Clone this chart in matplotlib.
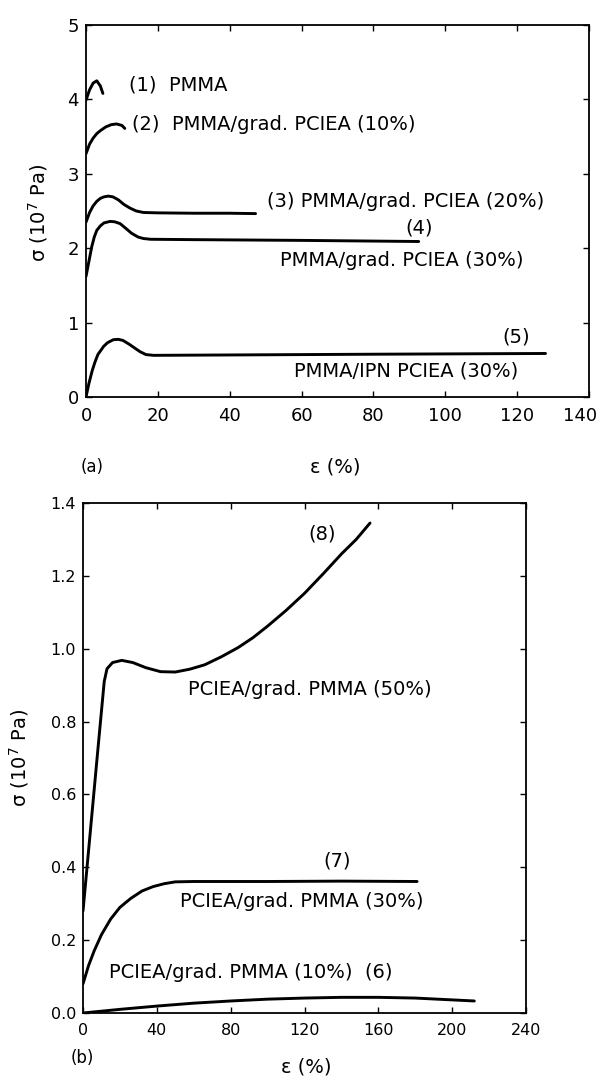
import matplotlib
matplotlib.use("Agg")
import matplotlib.pyplot as plt
import matplotlib.transforms as mtransforms

# ---- panel (a): PMMA-rich samples ----
C1_X = [0, 1, 2, 3, 4, 4.7]
C1_Y = [3.99, 4.13, 4.22, 4.25, 4.18, 4.08]

C2_X = [0, 1, 2, 3, 4, 5.5, 7, 8.5, 10, 10.8]
C2_Y = [3.27, 3.40, 3.48, 3.54, 3.58, 3.63, 3.66, 3.67, 3.65, 3.61]

C3_X = [0, 1, 2, 3, 4, 5, 6.2, 7.5, 9, 10.5, 12.2, 14, 16, 20, 30, 40, 47.2]
C3_Y = [2.35, 2.48, 2.57, 2.63, 2.67, 2.69, 2.70, 2.69, 2.65, 2.59, 2.54,
        2.50, 2.48, 2.475, 2.47, 2.47, 2.465]

C4_X = [0, 0.8, 1.6, 2.3, 3.0, 4, 5, 6.7, 8, 9.5, 11, 12.7, 14.5, 16, 18,
        30, 60, 92.6]
C4_Y = [1.62, 1.82, 2.02, 2.15, 2.24, 2.30, 2.34, 2.36, 2.355, 2.33, 2.27,
        2.20, 2.15, 2.13, 2.12, 2.115, 2.105, 2.09]

C5_X = [0, 0.8, 1.7, 2.5, 3.3, 4.9, 6, 7.6, 9, 10.3, 12, 13.5, 15, 16.7,
        18.8, 40, 80, 127.9]
C5_Y = [0.0, 0.18, 0.35, 0.47, 0.57, 0.68, 0.73, 0.77, 0.775, 0.76, 0.71,
        0.66, 0.61, 0.57, 0.56, 0.565, 0.575, 0.585]

# ---- panel (b): PCIEA-rich samples ----
C6_X = [0, 20, 40, 60, 80, 100, 120, 140, 160, 180, 200, 212]
C6_Y = [0.0, 0.01, 0.019, 0.027, 0.033, 0.038, 0.041, 0.043, 0.043, 0.041,
        0.036, 0.033]

C7_X = [0, 3, 6, 10, 15, 20, 26, 32, 38, 44, 50, 60, 100, 140, 181]
C7_Y = [0.08, 0.13, 0.17, 0.215, 0.258, 0.29, 0.315, 0.335, 0.347, 0.355,
        0.36, 0.361, 0.361, 0.362, 0.361]

C8_X = [0, 4, 8, 11.5, 13, 16, 21, 27, 34, 42, 50, 58, 66, 75, 84, 92, 100,
        110, 120, 130, 140, 148, 155.5]
C8_Y = [0.28, 0.50, 0.72, 0.91, 0.945, 0.962, 0.968, 0.962, 0.948, 0.937,
        0.936, 0.944, 0.956, 0.978, 1.003, 1.03, 1.062, 1.105, 1.152, 1.205,
        1.26, 1.30, 1.345]

A_XTICKS = list(range(0, 141, 20))
A_YTICKS = [0, 1, 2, 3, 4, 5]
B_XTICKS = list(range(0, 241, 40))
B_YTICKS = [0.0, 0.2, 0.4, 0.6, 0.8, 1.0, 1.2, 1.4]

W, H = 600, 1077
LW = 2.1
TS = 14          # annotation size
plt.rcParams["font.family"] = "DejaVu Sans"


def px(x0, y0, x1, y1):
    """Pixel box (top-left origin) -> figure fraction rect."""
    return [x0 / W, 1 - y1 / H, (x1 - x0) / W, (y1 - y0) / H]


def style(ax, size):
    ax.tick_params(direction="in", top=True, right=True, length=4, width=1,
                   labelsize=size, pad=7)
    ax.tick_params(axis="y", pad=5)
    for s in ax.spines.values():
        s.set_linewidth(1.3)


fig = plt.figure(figsize=(W / 100, H / 100), dpi=100, facecolor="white")

# (a)
ax1 = fig.add_axes(px(86, 25, 589, 397))
for xs, ys in [(C1_X, C1_Y), (C2_X, C2_Y), (C3_X, C3_Y), (C4_X, C4_Y), (C5_X, C5_Y)]:
    ax1.plot(xs, ys, color="black", lw=LW, solid_capstyle="round")
ax1.set_xlim(0, 140)
ax1.set_ylim(0, 5)
ax1.set_xticks(A_XTICKS)
ax1.set_yticks(A_YTICKS)
style(ax1, 13)
# last label sits just inside the image edge, as in the original
last = ax1.get_xticklabels()[-1]
last.set_transform(last.get_transform()
                   + mtransforms.ScaledTranslation(-9 / 100, 0, fig.dpi_scale_trans))

ax1.text(11.9, 4.195, "(1)  PMMA", fontsize=TS, va="center")
ax1.text(12.9, 3.66, "(2)  PMMA/grad. PCIEA (10%)", fontsize=TS, va="center")
ax1.text(50.4, 2.63, "(3) PMMA/grad. PCIEA (20%)", fontsize=TS, va="center")
ax1.text(92.6, 2.27, "(4)", fontsize=TS, va="center", ha="center")
ax1.text(54.1, 1.83, "PMMA/grad. PCIEA (30%)", fontsize=TS, va="center")
ax1.text(119.7, 0.805, "(5)", fontsize=TS, va="center", ha="center")
ax1.text(57.9, 0.35, "PMMA/IPN PCIEA (30%)", fontsize=TS, va="center")

fig.text(38 / W, 1 - 213 / H, r"σ (10$^{7}$ Pa)", rotation=90, fontsize=14,
         ha="center", va="center")
fig.text(92 / W, 1 - 467 / H, "(a)", fontsize=12, ha="center", va="center")
fig.text(335 / W, 1 - 467 / H, "ε (%)", fontsize=14, ha="center", va="center")

# (b)
ax2 = fig.add_axes(px(83, 503, 526, 1013))
for xs, ys in [(C6_X, C6_Y), (C7_X, C7_Y), (C8_X, C8_Y)]:
    ax2.plot(xs, ys, color="black", lw=LW, solid_capstyle="round")
ax2.set_xlim(0, 240)
ax2.set_ylim(0, 1.4)
ax2.set_xticks(B_XTICKS)
ax2.set_yticks(B_YTICKS)
ax2.set_yticklabels([f"{v:.1f}" for v in B_YTICKS])
style(ax2, 11.5)

ax2.text(129.3, 1.316, "(8)", fontsize=TS, va="center", ha="center")
ax2.text(57, 0.888, "PCIEA/grad. PMMA (50%)", fontsize=TS, va="center")
ax2.text(137.8, 0.417, "(7)", fontsize=TS, va="center", ha="center")
ax2.text(52.6, 0.307, "PCIEA/grad. PMMA (30%)", fontsize=TS, va="center")
ax2.text(14, 0.110, "PCIEA/grad. PMMA (10%)  (6)", fontsize=TS, va="center")

fig.text(19 / W, 1 - 758 / H, r"σ (10$^{7}$ Pa)", rotation=90, fontsize=14,
         ha="center", va="center")
fig.text(82 / W, 1 - 1058 / H, "(b)", fontsize=12, ha="center", va="center")
fig.text(306 / W, 1 - 1067 / H, "ε (%)", fontsize=14, ha="center", va="center")

fig.savefig("out.png", dpi=100, facecolor="white")
